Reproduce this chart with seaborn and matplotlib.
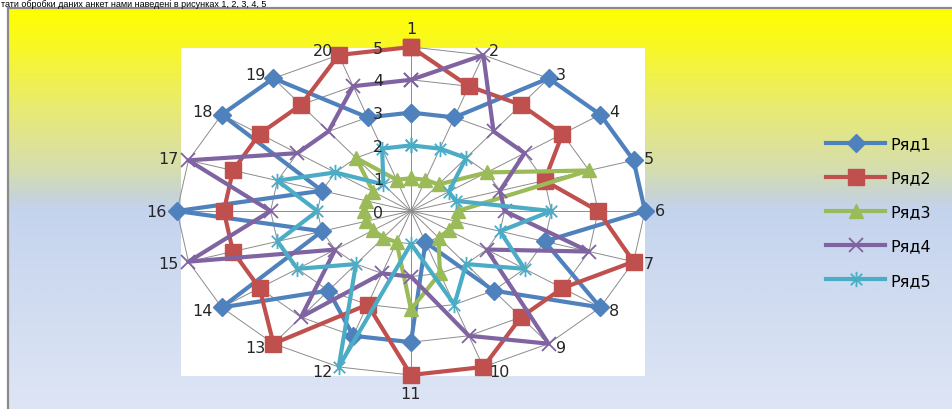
import numpy as np
import pandas as pd
import seaborn as sns
import matplotlib
matplotlib.use("Agg")
import matplotlib.pyplot as plt
from matplotlib.path import Path
from matplotlib.colors import LinearSegmentedColormap
from matplotlib.patches import Rectangle

# ---- data -------------------------------------------------------------
categories = [str(i) for i in range(1, 21)]
series_names = ["Ряд1", "Ряд2", "Ряд3", "Ряд4", "Ряд5"]
ryad1 = [3, 3, 5, 5, 5, 5, 3, 5, 3, 1, 4, 4, 3, 5, 2, 5, 2, 5, 5, 3]
ryad2 = [5, 4, 4, 4, 3, 4, 5, 4, 4, 5, 5, 3, 5, 4, 4, 4, 4, 4, 4, 5]
ryad3 = [1, 1, 1, 2, 4, 1, 1, 1, 1, 2, 3, 1, 1, 1, 1, 1, 1, 1, 2, 1]
ryad4 = [4, 5, 3, 3, 2, 2, 4, 2, 5, 4, 2, 2, 4, 2, 5, 3, 5, 3, 3, 4]
ryad5 = [2, 2, 2, 1, 1, 3, 2, 3, 2, 3, 1, 5, 2, 3, 3, 2, 3, 2, 1, 2]
radial_ticks = [0, 1, 2, 3, 4, 5]
caption = "тати обробки даних анкет нами наведені в рисунках 1, 2, 3, 4, 5"

# ---- styling ----------------------------------------------------------
colors = ["#4F81BD", "#C0504D", "#9BBB59", "#8064A2", "#4BACC6"]
# asterisk marker: vertical bar plus a cross
asterisk = Path(
    [(0, -1), (0, 1), (-0.75, -0.75), (0.75, 0.75), (-0.75, 0.75), (0.75, -0.75)],
    [Path.MOVETO, Path.LINETO, Path.MOVETO, Path.LINETO, Path.MOVETO, Path.LINETO],
)
markers = ["D", "s", "^", "x", asterisk]
msizes = [9, 11.5, 9.5, 10, 11]
mews = [1, 1, 1, 1.3, 1.3]

W, H = 953, 410


def fx(px):
    return px / W


def fy(py):
    return 1 - py / H


# long-form table, each series closed back to its first category
n = len(categories)
angles = np.deg2rad(np.arange(n) * 360.0 / n)
rows = []
for name, vals in zip(series_names, [ryad1, ryad2, ryad3, ryad4, ryad5]):
    for i in range(n + 1):
        j = i % n
        rows.append({"series": name, "category": categories[j],
                     "angle": angles[j] if i < n else 2 * np.pi,
                     "value": vals[j], "order": i})
df = pd.DataFrame(rows)

fig = plt.figure(figsize=(W / 100, H / 100), dpi=100)
fig.patch.set_facecolor("white")

# chart-area background: vertical gradient inside a grey frame
bg = fig.add_axes([fx(8), 0, 1 - fx(8), fy(9)], zorder=-3)
stops = [(0.00, (1.00, 1.00, 0.00)),
         (0.10, (0.97, 0.97, 0.16)),
         (0.25, (0.91, 0.92, 0.45)),
         (0.40, (0.84, 0.87, 0.68)),
         (0.47, (0.78, 0.83, 0.84)),
         (0.50, (0.77, 0.83, 0.93)),
         (1.00, (0.87, 0.90, 0.96))]
cmap = LinearSegmentedColormap.from_list("chartbg", stops)
bg.imshow(np.linspace(0, 1, 400).reshape(-1, 1), aspect="auto", cmap=cmap,
          extent=(0, 1, 0, 1), origin="upper")
bg.set_xticks([])
bg.set_yticks([])
for side in ("right", "bottom"):
    bg.spines[side].set_visible(False)
for side in ("left", "top"):
    bg.spines[side].set_color("#8a8a8a")
    bg.spines[side].set_linewidth(1.6)

# white plot area
fig.add_artist(Rectangle((fx(181), fy(377)), fx(645 - 181), (377 - 49) / H,
                         transform=fig.transFigure, facecolor="white",
                         edgecolor="none", zorder=-2))

# radar axes (stretched horizontally to an ellipse)
cx, cy, rx, ry = 411, 212, 234, 164
ax = fig.add_axes([fx(cx - rx), fy(cy + ry), 2 * rx / W, 2 * ry / H],
                  projection="polar", zorder=0)
ax.set_aspect("auto")
ax.set_theta_zero_location("N")
ax.set_theta_direction(-1)
ax.patch.set_visible(False)
ax.spines["polar"].set_visible(False)
ax.set_ylim(0, 5)
ax.set_yticks([])
ax.set_xticks(angles)
ax.set_xticklabels([])
ax.tick_params(axis="x", length=0)
ax.xaxis.grid(True, color="#8c8c8c", linewidth=0.7)

closed = np.append(angles, 2 * np.pi)
for r in radial_ticks[1:]:
    ax.plot(closed, [r] * (n + 1), color="#8c8c8c", linewidth=0.7, zorder=1,
            clip_on=False)

handles = []
for k, name in enumerate(series_names):
    sub = df[df["series"] == name].sort_values("order")
    sns.lineplot(data=sub, x="angle", y="value", sort=False, estimator=None,
                 errorbar=None, ax=ax, color=colors[k], linewidth=3,
                 marker=markers[k], markersize=msizes[k],
                 markeredgecolor=colors[k], markerfacecolor=colors[k],
                 markeredgewidth=mews[k], zorder=3 + k, legend=False,
                 clip_on=False)
    handles.append(ax.lines[-1])
ax.set_xlabel("")
ax.set_ylabel("")

# category labels around the outer ring
for phi, lab in zip(angles, categories):
    s, c = np.sin(phi), np.cos(phi)
    if abs(s) < 0.05:
        ha, va = "center", ("bottom" if c > 0 else "top")
        off = (0, 11 * np.sign(c))
    else:
        ha, va = ("left" if s > 0 else "right"), "center"
        off = (np.sign(s) * (4 + 6 * abs(s)), 5 * c)
    ax.annotate(lab, xy=(phi, 5), xytext=(off[0] * 0.72, off[1] * 0.72),
                textcoords="offset points", ha=ha, va=va, fontsize=11.5,
                color="#262626", zorder=10)

# radial scale labels left of the top spoke
for r in radial_ticks:
    ax.annotate(str(r), xy=(0, r), xytext=(-33 * 0.72, -1 * 0.72),
                textcoords="offset points", ha="center", va="center",
                fontsize=11.5, color="#262626", zorder=10)

fig.legend(handles=handles, labels=series_names, loc="center left",
           bbox_to_anchor=(fx(826), fy(213)), frameon=False, fontsize=11.5,
           handlelength=3.7, handletextpad=0.35, labelspacing=1.2,
           borderaxespad=0, borderpad=0)

# running text of the page above the chart
fig.text(fx(1), fy(7), caption, ha="left", va="baseline", fontsize=6.5,
         family="Liberation Sans", color="black")

fig.savefig("out.png", dpi=100)
